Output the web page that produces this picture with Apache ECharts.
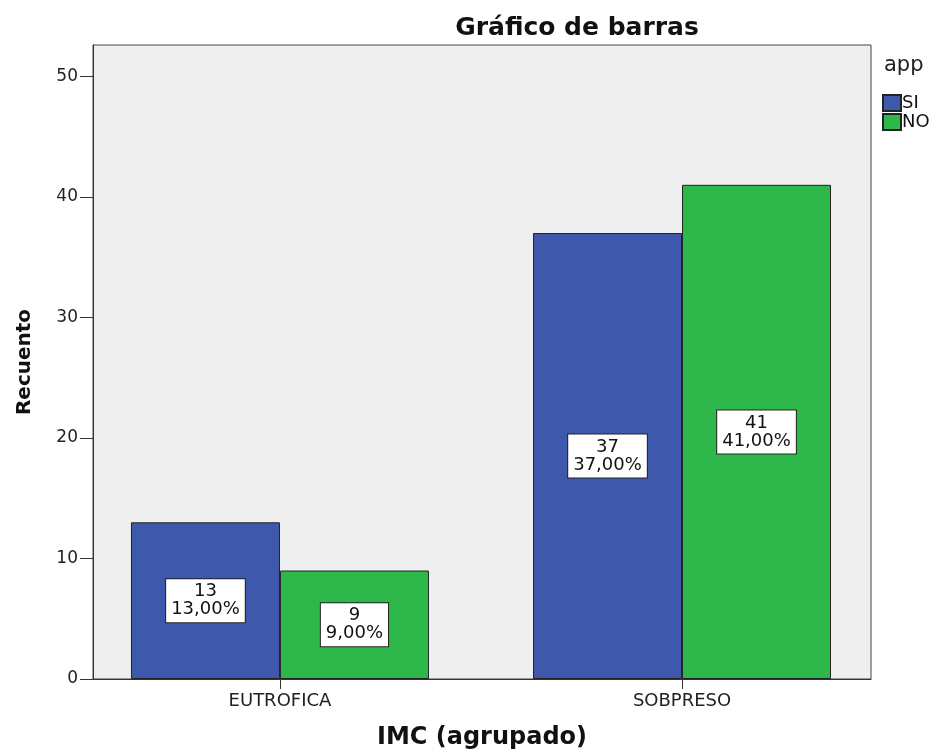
<!DOCTYPE html>
<html>
<head>
<meta charset="utf-8">
<script src="https://cdn.jsdelivr.net/npm/echarts@6/dist/echarts.min.js"></script>
<style>html,body{margin:0;padding:0;background:#fff;}#c{width:930px;height:751px;}</style>
</head>
<body>
<div id="c"></div>
<script>
var categories = ['EUTROFICA', 'SOBPRESO'];
var seriesNames = ['SI', 'NO'];
var valuesSI = [13, 37];
var valuesNO = [9, 41];
var yTicks = [0, 10, 20, 30, 40, 50];

var total = valuesSI.concat(valuesNO).reduce(function (a, b) { return a + b; }, 0);
function fmtPct(v) { return (v / total * 100).toFixed(2).replace('.', ',') + '%'; }

var font = '"DejaVu Sans", Verdana, sans-serif';
var labelCfg = {
  show: true, position: 'inside', color: '#111', fontFamily: font, fontSize: 18, lineHeight: 18,
  backgroundColor: '#fff', borderColor: '#222', borderWidth: 1, padding: [4, 5, 3, 5],
  formatter: function (p) { return p.value[1] + '\n' + fmtPct(p.value[1]); }
};
function mk(vals) { return vals.map(function (v, i) { return [i, v]; }); }

var chart = echarts.init(document.getElementById('c'), null, {renderer: 'canvas'});
chart.setOption({
  animation: false,
  backgroundColor: '#fff',
  title: {
    text: 'Gráfico de barras', left: 572, top: 11, textAlign: 'center',
    textStyle: {fontFamily: font, fontSize: 25, fontWeight: 'bold', color: '#111'}
  },
  legend: {
    orient: 'vertical', left: 877, top: 89, itemWidth: 18, itemHeight: 16, itemGap: 1,
    icon: 'rect', data: seriesNames,
    textStyle: {fontFamily: font, fontSize: 18, lineHeight: 18, color: '#111', padding: [0, 0, 0, -4]}
  },
  graphic: [{
    type: 'text', left: 884, top: 55,
    style: {text: 'app', font: '21px "DejaVu Sans", Verdana, sans-serif', fill: '#222'}
  }],
  grid: {left: 93, top: 45, right: 59, bottom: 72, outerBoundsMode: 'none', containLabel: false,
    show: true, backgroundColor: '#efefef', borderColor: '#444', borderWidth: 1},
  xAxis: {
    type: 'value', min: -0.465, max: 1.47,
    name: 'IMC (agrupado)', nameLocation: 'middle', nameGap: 47,
    nameTextStyle: {fontFamily: font, fontSize: 24, fontWeight: 'bold', color: '#111'},
    axisLine: {show: true, onZero: false, lineStyle: {color: '#333', width: 1}},
    axisTick: {show: true, length: 10, customValues: [0, 1], lineStyle: {color: '#333'}},
    axisLabel: {customValues: [0, 1], margin: 13, fontFamily: font, fontSize: 18, color: '#222',
      formatter: function (v) { return categories[Math.round(v)]; }},
    splitLine: {show: false}
  },
  yAxis: {
    type: 'value', min: 0, max: 52.6, interval: 10,
    name: 'Recuento', nameLocation: 'middle', nameGap: 58, nameRotate: 90,
    nameTextStyle: {fontFamily: font, fontSize: 20, fontWeight: 'bold', color: '#111'},
    axisLine: {show: true, onZero: false, lineStyle: {color: '#333', width: 1}},
    axisTick: {show: true, length: 13, customValues: yTicks, lineStyle: {color: '#333'}},
    axisLabel: {customValues: yTicks, margin: 15, fontFamily: font, fontSize: 17, color: '#222'},
    splitLine: {show: false}
  },
  series: [
    {name: seriesNames[0], type: 'bar', data: mk(valuesSI), barWidth: 149, barGap: '0%',
     itemStyle: {color: '#3e58ab', borderColor: '#222', borderWidth: 1}, label: labelCfg},
    {name: seriesNames[1], type: 'bar', data: mk(valuesNO), barWidth: 149, barGap: '0%',
     itemStyle: {color: '#2eb84b', borderColor: '#222', borderWidth: 1}, label: labelCfg}
  ]
});
</script>
</body>
</html>
